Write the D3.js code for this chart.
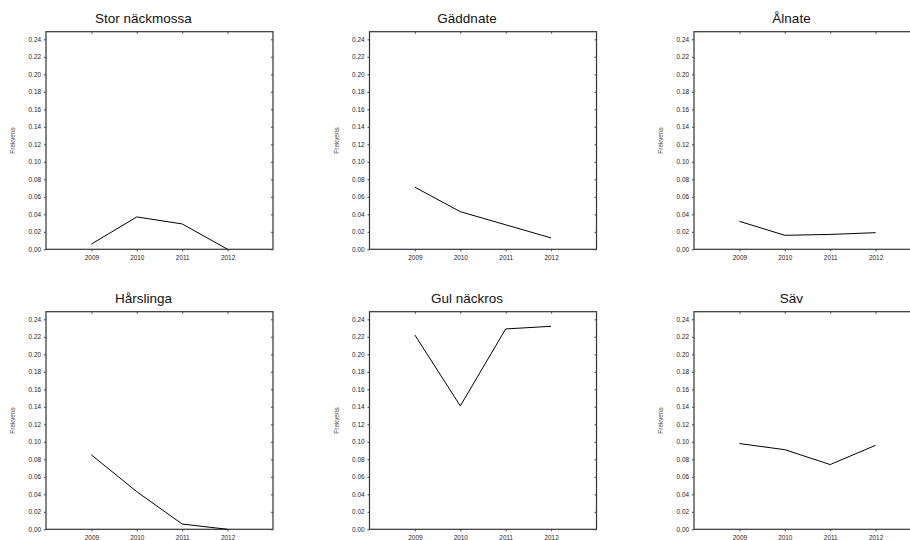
<!DOCTYPE html>
<html>
<head>
<meta charset="utf-8">
<script src="https://cdn.jsdelivr.net/npm/d3@7"></script>
<style>
  body{margin:0;background:#fff;}
  svg{display:block;font-family:"Liberation Sans",Arial,sans-serif;}
</style>
</head>
<body>
<svg id="chart" width="910" height="540"></svg>
<script>
// data
var years=[2009,2010,2011,2012];
var titles=["Stor näckmossa","Gäddnate","Ålnate","Hårslinga","Gul näckros","Säv"];
var storNackmossa=[0.006,0.037,0.029,0.000];
var gaddnate=[0.071,0.043,0.028,0.013];
var alnate=[0.032,0.016,0.017,0.019];
var harslinga=[0.085,0.043,0.006,0.000];
var gulNackros=[0.222,0.141,0.229,0.232];
var sav=[0.098,0.091,0.074,0.096];
var yTicks=[0,0.02,0.04,0.06,0.08,0.10,0.12,0.14,0.16,0.18,0.20,0.22,0.24];
var yLabel="Frekvens";

var series=[storNackmossa,gaddnate,alnate,harslinga,gulNackros,sav];

var svg=d3.select("#chart");
var colLeft=[46,369.5,694], rowTop=[31.7,311.7];
var w=227, h=217.6;

var x=d3.scaleLinear().domain([2008,2013]).range([0,w]);
var y=d3.scaleLinear().domain([0,0.2487]).range([h,0]);

titles.forEach(function(t,i){
  var g=svg.append("g")
    .attr("transform","translate("+colLeft[i%3]+","+rowTop[Math.floor(i/3)]+")");

  // frame
  g.append("rect").attr("width",w).attr("height",h)
    .attr("fill","none").attr("stroke","#333").attr("stroke-width",1.2);

  g.append("g")
    .call(d3.axisLeft(y).tickValues(yTicks).tickSize(2).tickPadding(3).tickFormat(d3.format(".2f")));
  g.append("g").attr("transform","translate(0,"+h+")")
    .call(d3.axisBottom(x).tickValues(years).tickSize(2).tickPadding(4).tickFormat(d3.format("d")));
  g.append("g").call(d3.axisTop(x).tickValues(years).tickSize(-2).tickFormat(""));
  g.append("g").attr("transform","translate("+w+",0)")
    .call(d3.axisRight(y).tickValues(yTicks).tickSize(-2).tickFormat(""));

  g.selectAll(".domain").remove();
  g.selectAll(".tick line").attr("stroke","#444");
  g.selectAll(".tick text").attr("font-size","6.4px").attr("fill","#222")
    .attr("font-family","'Liberation Sans',Arial,sans-serif");

  g.append("text")
    .attr("transform","translate(-31,"+(h/2)+") rotate(-90)")
    .attr("text-anchor","middle")
    .attr("font-size","6.4px").attr("fill","#444")
    .text(yLabel);

  g.append("text")
    .attr("x",w/2-16).attr("y",-9)
    .attr("text-anchor","middle")
    .attr("font-size","13.5px").attr("fill","#111")
    .text(t);

  var line=d3.line()
    .x(function(d,j){return x(years[j]);})
    .y(function(d){return y(d);});

  g.append("path").datum(series[i])
    .attr("d",line)
    .attr("fill","none").attr("stroke","#000").attr("stroke-width",1);
});
</script>
</body>
</html>
